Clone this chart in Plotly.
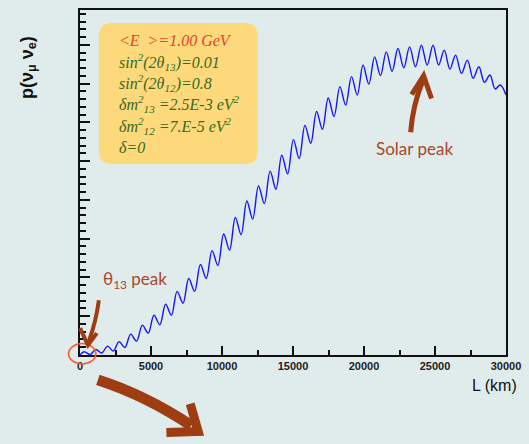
import plotly.graph_objects as go

# Oscillation probability P(nu_mu -> nu_e) versus baseline, sampled at the
# local maxima and minima of the fast (atmospheric) wiggles.
peak_L = [300, 1120, 1940, 2750, 3570, 4390, 5210, 6030, 6840, 7660, 8480, 9300,
          10120, 10940, 11750, 12570, 13390, 14210, 15030, 15840, 16660, 17480,
          18300, 19120, 19930, 20750, 21570, 22390, 23210, 24040, 24860, 25650,
          26450, 27280, 28090, 28870, 29600]
peak_p = [0.0042, 0.0071, 0.0115, 0.0173, 0.0269, 0.0385, 0.0513, 0.0654, 0.0821,
          0.0987, 0.1167, 0.1346, 0.1560, 0.1773, 0.1987, 0.2180, 0.2372, 0.2577,
          0.2778, 0.2962, 0.3141, 0.3314, 0.3462, 0.3590, 0.3740, 0.3846, 0.3910,
          0.3953, 0.3974, 0.3995, 0.3995, 0.3932, 0.3868, 0.3804, 0.3718, 0.3612,
          0.3483]
dip_L = [710, 1530, 2345, 3160, 3980, 4800, 5620, 6435, 7250, 8070, 8890, 9710,
         10530, 11345, 12160, 12980, 13800, 14620, 15435, 16250, 17070, 17890,
         18710, 19525, 20340, 21160, 21980, 22800, 23625, 24450, 25255, 26050,
         26865, 27685, 28480, 29235]
dip_p = [0.0006, 0.0026, 0.0051, 0.0096, 0.0179, 0.0282, 0.0391, 0.0513, 0.0667,
         0.0821, 0.0987, 0.1154, 0.1353, 0.1551, 0.1753, 0.1953, 0.2137, 0.2337,
         0.2535, 0.2731, 0.2910, 0.3077, 0.3224, 0.3353, 0.3494, 0.3603, 0.3660,
         0.3705, 0.3718, 0.3740, 0.3740, 0.3688, 0.3632, 0.3568, 0.3517, 0.3432]
start_L, start_p = 0, 0.0
end_L, end_p = 30000, 0.3355

x_ticks = [0, 5000, 10000, 15000, 20000, 25000, 30000]
x_tick_text = ["0", "5000", "10000", "15000", "20000", "25000", "30000"]

info_lines = [
    ("&lt;E &nbsp;&gt;=1.00 GeV", "#e2432a"),
    ("sin<sup>2</sup>(2θ<sub>13</sub>)=0.01", "#356b22"),
    ("sin<sup>2</sup>(2θ<sub>12</sub>)=0.8", "#356b22"),
    ("δm<sup>2</sup><sub>13</sub> =2.5E-3 eV<sup>2</sup>", "#356b22"),
    ("δm<sup>2</sup><sub>12</sub> =7.E-5 eV<sup>2</sup>", "#356b22"),
    ("δ=0", "#356b22"),
]

pts = sorted(zip([start_L] + peak_L + dip_L + [end_L],
                 [start_p] + peak_p + dip_p + [end_p]))
L_all = [a for a, _ in pts]
p_all = [b for _, b in pts]

W, H = 529, 444
ML, MR, MT, MB = 80, 20, 8, 89
PW, PH = W - ML - MR, H - MT - MB


def px(x):
    return (x - ML) / PW


def py(y):
    return (H - MB - y) / PH


def path(points, close=False):
    s = "M " + " L ".join(f"{px(x):.5f},{py(y):.5f}" for x, y in points)
    return s + (" Z" if close else "")


def qpath(p0, c, p1):
    return (f"M {px(p0[0]):.5f},{py(p0[1]):.5f} Q {px(c[0]):.5f},{py(c[1]):.5f} "
            f"{px(p1[0]):.5f},{py(p1[1]):.5f}")


def rounded_box(x0, y0, x1, y1, r):
    P = lambda x, y: f"{px(x):.5f},{py(y):.5f}"
    return (f"M {P(x0 + r, y0)} L {P(x1 - r, y0)} Q {P(x1, y0)} {P(x1, y0 + r)} "
            f"L {P(x1, y1 - r)} Q {P(x1, y1)} {P(x1 - r, y1)} "
            f"L {P(x0 + r, y1)} Q {P(x0, y1)} {P(x0, y1 - r)} "
            f"L {P(x0, y0 + r)} Q {P(x0, y0)} {P(x0 + r, y0)} Z")


BROWN = "#9e3c12"
BG = "#e0ecec"

fig = go.Figure()
fig.add_trace(go.Scatter(x=L_all, y=p_all, mode="lines",
                         line=dict(color="#1414ff", width=1.4, shape="spline", smoothing=1.0),
                         hoverinfo="skip", showlegend=False))

shapes = [
    dict(type="path", xref="paper", yref="paper", layer="below",
         path=rounded_box(99, 21, 259, 163, 13), fillcolor="#fdd97c", line=dict(width=0)),
    dict(type="circle", xref="paper", yref="paper",
         x0=px(68.5), x1=px(96), y0=py(364), y1=py(343.5),
         line=dict(color="#ff5a2a", width=1.6)),
    # theta13 arrow
    dict(type="path", xref="paper", yref="paper",
         path=qpath((99, 300), (96, 322), (89, 341)), line=dict(color=BROWN, width=4)),
    dict(type="path", xref="paper", yref="paper",
         path=path([(80, 328), (88, 345), (97, 333)]), line=dict(color=BROWN, width=4)),
    # solar arrow
    dict(type="path", xref="paper", yref="paper",
         path=qpath((413, 131), (415, 104), (425, 80)), line=dict(color=BROWN, width=5)),
    dict(type="path", xref="paper", yref="paper",
         path=path([(414, 93), (426, 74), (434, 97)]), line=dict(color=BROWN, width=5)),
    # large arrow below the axis
    dict(type="path", xref="paper", yref="paper",
         path=(f"M {px(98):.5f},{py(380):.5f} C {px(135):.5f},{py(392):.5f} "
               f"{px(165):.5f},{py(408):.5f} {px(192):.5f},{py(426):.5f}"),
         line=dict(color=BROWN, width=11)),
    dict(type="path", xref="paper", yref="paper",
         path=path([(191, 404), (199, 432), (167, 433)]), line=dict(color=BROWN, width=9)),
]

ann = []
for i, (txt, col) in enumerate(info_lines):
    ann.append(dict(xref="paper", yref="paper", x=px(117), y=py(38.5 + i * 21.5),
                    xanchor="left", yanchor="middle", showarrow=False, text=txt,
                    font=dict(family="Liberation Serif", size=16, color=col, style="italic")))
ann += [
    dict(xref="paper", yref="paper", x=px(28), y=py(66), textangle=-90,
         xanchor="center", yanchor="middle", showarrow=False,
         text="p(ν<sub>μ</sub> ν<sub>e</sub>)",
         font=dict(family="Liberation Sans", size=18, color="#111", weight="bold")),
    dict(xref="paper", yref="paper", x=px(522), y=py(386), xanchor="right",
         yanchor="middle", showarrow=False, text="L (km)",
         font=dict(family="Liberation Sans", size=16, color="#111")),
    dict(xref="paper", yref="paper", x=px(417), y=py(147), xanchor="center",
         yanchor="middle", showarrow=False, text="Solar peak",
         font=dict(family="Lato", size=17, color="#a8472a")),
    dict(xref="paper", yref="paper", x=px(101), y=py(280), xanchor="left",
         yanchor="middle", showarrow=False, text="θ<sub>13</sub> peak",
         font=dict(family="Lato", size=17, color="#a8472a")),
]

fig.update_layout(
    width=W, height=H, margin=dict(l=ML, r=MR, t=MT, b=MB),
    paper_bgcolor=BG, plot_bgcolor=BG, shapes=shapes, annotations=ann,
    xaxis=dict(range=[0, 30000], tickvals=x_ticks, ticktext=x_tick_text,
               ticks="inside", ticklen=9,
               tickwidth=1.5, tickcolor="#111", showline=True, linecolor="#111",
               linewidth=1.5, mirror=True, showgrid=False, zeroline=False,
               tickfont=dict(family="Liberation Sans", size=11, color="#222", weight="bold"),
               minor=dict(dtick=2500, ticks="inside", ticklen=5, tickwidth=1.5,
                          tickcolor="#111", showgrid=False)),
    yaxis=dict(range=[0, 0.445], dtick=0.05, tick0=0, ticks="inside", ticklen=10,
               tickwidth=1.5, tickcolor="#111", showline=True, linecolor="#111",
               linewidth=1.5, mirror=True, showgrid=False, zeroline=False,
               showticklabels=False,
               minor=dict(dtick=0.01, ticks="inside", ticklen=6, tickwidth=1.5,
                          tickcolor="#111", showgrid=False)),
)

fig.write_html("out.html")
